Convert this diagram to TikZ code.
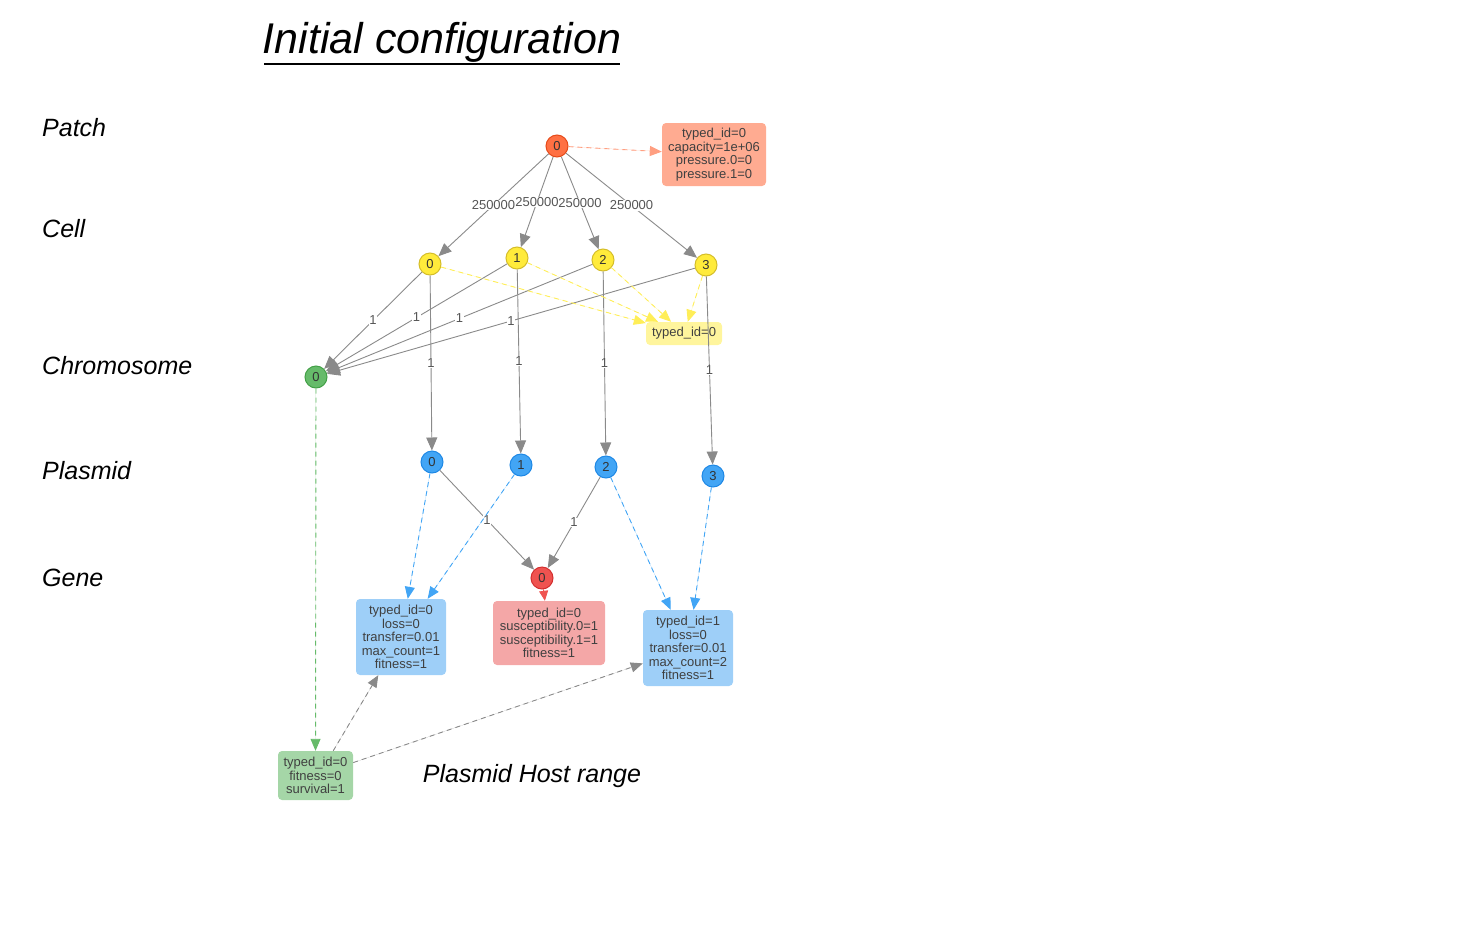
\documentclass[tikz,border=0pt]{standalone}
\usepackage{fontspec}
\setmainfont{Liberation Sans}
\usetikzlibrary{arrows.meta}
\definecolor{patchfill}{HTML}{FF7043}
\definecolor{patchdraw}{HTML}{E64A19}
\definecolor{patchbox}{HTML}{FFAB91}
\definecolor{cellfill}{HTML}{FFEB3B}
\definecolor{celldraw}{HTML}{D4BD2A}
\definecolor{cellbox}{HTML}{FFF59D}
\definecolor{cellarr}{HTML}{FFEE58}
\definecolor{chromfill}{HTML}{66BB6A}
\definecolor{chromdraw}{HTML}{43A047}
\definecolor{chrombox}{HTML}{A5D6A7}
\definecolor{plasfill}{HTML}{42A5F5}
\definecolor{plasdraw}{HTML}{1E88E5}
\definecolor{plasbox}{HTML}{9ECFF8}
\definecolor{genefill}{HTML}{EF5350}
\definecolor{genedraw}{HTML}{D32F2F}
\definecolor{genebox}{HTML}{F4A7A7}
\definecolor{edgegray}{HTML}{8A8A8A}
\definecolor{lblgray}{HTML}{555555}
\begin{document}
\begin{tikzpicture}[x=1pt,y=-1pt,
  circ/.style={circle, minimum size=22pt, inner sep=0pt, line width=1pt, font=\fontsize{13}{13}\selectfont, text=black!80},
  attrbox/.style={rounded corners=4pt, inner sep=0pt, align=center, font=\fontsize{13}{13.5}\selectfont, text=black!75},
  edgelbl/.style={font=\fontsize{13}{13}\selectfont, text=lblgray, inner sep=0.5pt},
  solidarr/.style={draw=edgegray, line width=0.9pt, -{Triangle[length=13pt,width=11pt]}},
  dasharr/.style={line width=0.9pt, dash pattern=on 5pt off 4pt, -{Triangle[length=12pt,width=10pt]}},
  rowlbl/.style={anchor=west, inner sep=0pt, font=\fontsize{25}{25}\selectfont\itshape, text=black}
]
\useasboundingbox (0,0) rectangle (1481,927);

% title and row labels
\node[font=\fontsize{43}{43}\selectfont\itshape, inner sep=0pt] (title) at (442,42) {Initial configuration};
\draw[line width=2pt] (264,63.5) -- (620,63.5);
\node[rowlbl] (lpatch) at (42,128) {Patch};
\node[rowlbl] (lcell) at (42,229) {Cell};
\node[rowlbl] (lchrom) at (42,366) {Chromosome};
\node[rowlbl] (lplas) at (42,471) {Plasmid};
\node[rowlbl] (lgene) at (42,578) {Gene};
\node[font=\fontsize{25}{25}\selectfont\itshape] (lhost) at (532,776) {Plasmid Host range};

% nodes
\node[circ, fill=patchfill, draw=patchdraw] (p0) at (557,146) {0};
\node[attrbox, fill=patchbox, minimum width=104pt, minimum height=63pt] (pbox) at (714,154.5) {typed\_id=0\\capacity=1e+06\\pressure.0=0\\pressure.1=0};

\node[circ, fill=cellfill, draw=celldraw] (c0) at (430,264) {0};
\node[circ, fill=cellfill, draw=celldraw] (c1) at (517,258) {1};
\node[circ, fill=cellfill, draw=celldraw] (c2) at (603,260) {2};
\node[circ, fill=cellfill, draw=celldraw] (c3) at (706,265) {3};
\node[attrbox, fill=cellbox, minimum width=76pt, minimum height=23pt] (cbox) at (684,333.5) {typed\_id=0};

\node[circ, fill=chromfill, draw=chromdraw] (ch0) at (316,377) {0};
\node[attrbox, fill=chrombox, minimum width=75pt, minimum height=49pt] (chbox) at (315.5,775.5) {typed\_id=0\\fitness=0\\survival=1};

\node[circ, fill=plasfill, draw=plasdraw] (pl0) at (432,462) {0};
\node[circ, fill=plasfill, draw=plasdraw] (pl1) at (521,465) {1};
\node[circ, fill=plasfill, draw=plasdraw] (pl2) at (606,467) {2};
\node[circ, fill=plasfill, draw=plasdraw] (pl3) at (713,476) {3};
\node[attrbox, fill=plasbox, minimum width=90pt, minimum height=76pt] (plboxa) at (401,637) {typed\_id=0\\loss=0\\transfer=0.01\\max\_count=1\\fitness=1};
\node[attrbox, fill=plasbox, minimum width=90pt, minimum height=76pt] (plboxb) at (688,648) {typed\_id=1\\loss=0\\transfer=0.01\\max\_count=2\\fitness=1};

\node[circ, fill=genefill, draw=genedraw] (g0) at (542,578) {0};
\node[attrbox, fill=genebox, minimum width=112pt, minimum height=64pt] (gbox) at (549,633) {typed\_id=0\\susceptibility.0=1\\susceptibility.1=1\\fitness=1};

% patch -> cells
\foreach \c in {c0,c1,c2,c3}
  \draw[solidarr] (p0) -- node[edgelbl, fill=white] {250000} (\c);
\draw[dasharr, draw=patchbox!80!patchfill, fill=patchfill!80] (p0) -- (pbox);

% cells -> chromosome
\foreach \c in {c0,c1,c2,c3}
  \draw[solidarr] (\c) -- node[edgelbl, fill=white] {1} (ch0);
% cells -> plasmids
\draw[solidarr] (c0) -- node[edgelbl, fill=white] {1} (pl0);
\draw[solidarr] (c1) -- node[edgelbl, fill=white] {1} (pl1);
\draw[solidarr] (c2) -- node[edgelbl, fill=white] {1} (pl2);
\draw[solidarr] (c3) -- node[edgelbl, fill=white] {1} (pl3);
% cells -> cell box
\foreach \c in {c0,c1,c2,c3}
  \draw[dasharr, draw=cellarr, fill=cellarr] (\c) -- (cbox);

% chromosome -> box
\draw[dasharr, draw=chromfill, fill=chromfill] (ch0) -- (chbox);

% plasmids -> gene
\draw[solidarr] (pl0) -- node[edgelbl, fill=white] {1} (g0);
\draw[solidarr] (pl2) -- node[edgelbl, fill=white] {1} (g0);
% plasmids -> boxes
\draw[dasharr, draw=plasfill, fill=plasfill] (pl0) -- (plboxa);
\draw[dasharr, draw=plasfill, fill=plasfill] (pl1) -- (plboxa);
\draw[dasharr, draw=plasfill, fill=plasfill] (pl2) -- (plboxb);
\draw[dasharr, draw=plasfill, fill=plasfill] (pl3) -- (plboxb);

% gene -> box
\draw[draw=genefill, line width=0.9pt, -{Triangle[length=10pt,width=9pt]}, fill=genefill] (g0) -- (gbox);

% host range
\draw[dasharr, draw=edgegray, fill=edgegray] (chbox.north east) ++(-20,0) coordinate (hs1) (hs1) -- (plboxa);
\draw[dasharr, draw=edgegray, fill=edgegray] (chbox) -- (plboxb);
\end{tikzpicture}
\end{document}
